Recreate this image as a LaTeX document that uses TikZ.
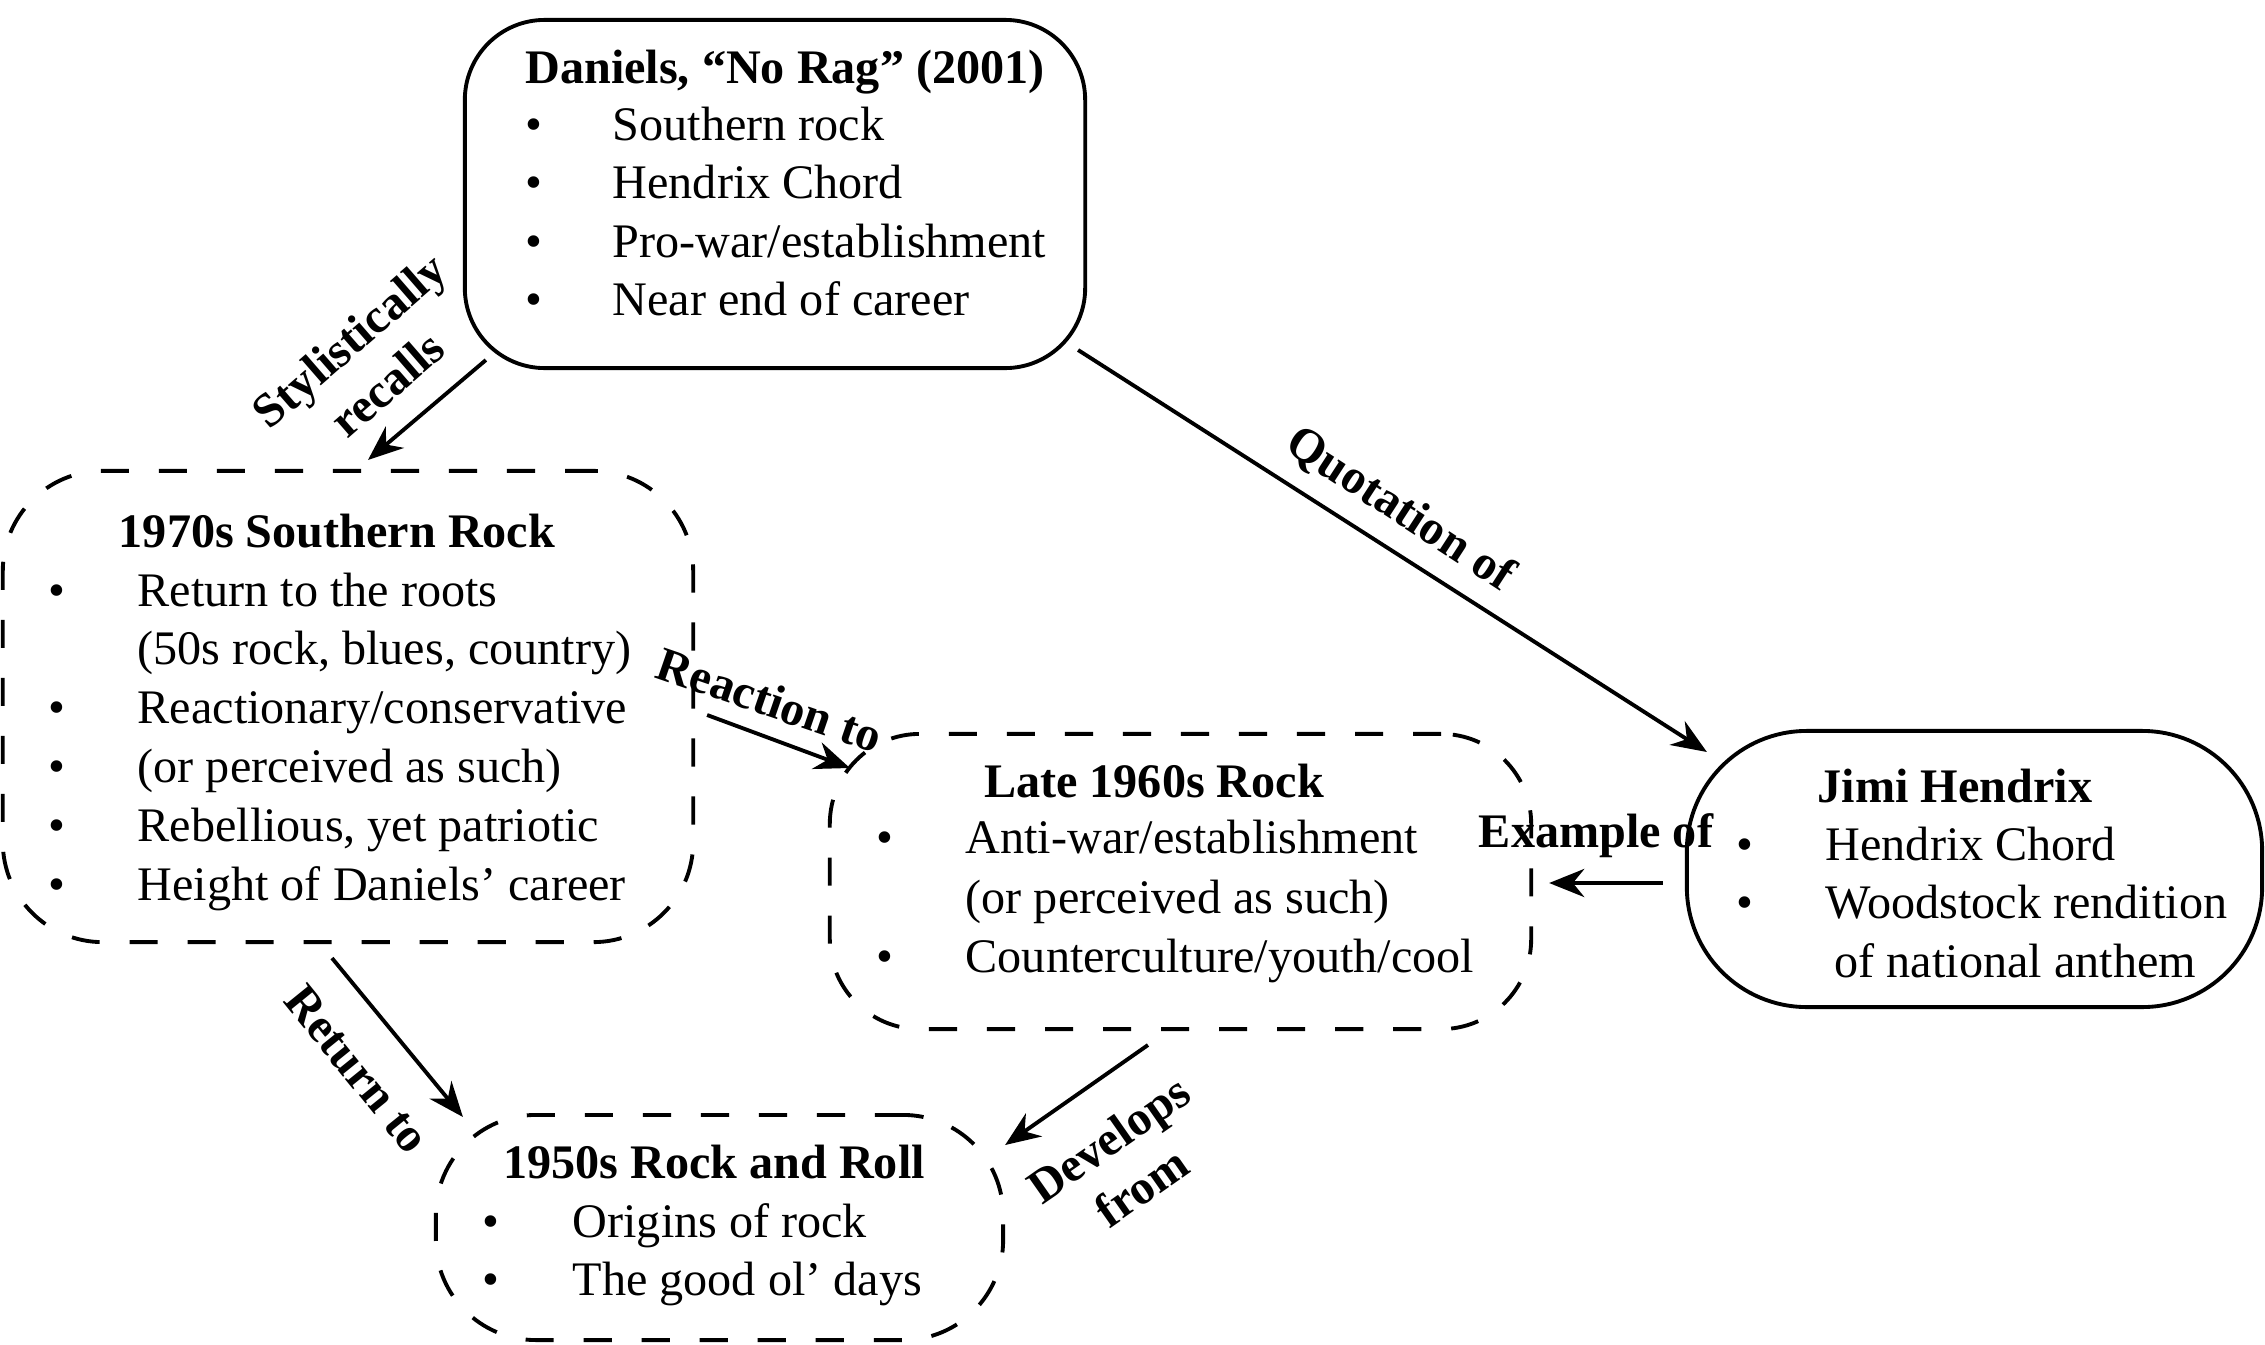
\documentclass[tikz,border=0pt]{standalone}
\usepackage{fontspec}
\setmainfont{Liberation Serif}
\usetikzlibrary{arrows.meta}
\tikzset{plain box/.style={
    draw, line width=1.1pt, rounded corners=#1, inner sep=0pt
  },
  dash box/.style={
    draw, line width=1.1pt, dash pattern=on 8pt off 8.5pt,
    rounded corners=#1, inner sep=0pt
  },
  boxtitle/.style={font=\bfseries, anchor=base, inner sep=0pt},
  bulletdot/.style={anchor=base, inner sep=0pt},
  itemtext/.style={anchor=base west, inner sep=0pt},
  linklabel/.style={font=\bfseries, align=center, inner sep=0pt},
  link/.style={-{Stealth[length=10pt,width=8pt]}, line width=1.1pt}
}

\begin{document}
\fontsize{13.7}{16.5}\selectfont
\begin{tikzpicture}[x=0.01cm,y=-0.01cm]
  \useasboundingbox (0,0) rectangle (2265,1345);

  % -- The five boxes.
  \node[plain box=0.8cm, minimum width=6.2cm, minimum height=3.48cm] (daniels) at (775,194) {};
  \node[dash box=1cm, minimum width=6.9cm, minimum height=4.71cm] (southern) at (348,706.5) {};
  \node[dash box=0.9cm, minimum width=7.01cm, minimum height=2.95cm] (late) at (1180.5,881.5) {};
  \node[plain box=1.2cm, minimum width=5.75cm, minimum height=2.76cm] (hendrix) at (1974.5,869) {};
  \node[dash box=1cm, minimum width=5.67cm, minimum height=2.25cm] (fifties) at (719.5,1227.5) {};

  % -- Daniels, the song.
  \node[boxtitle] (danielsT) at (785,83) {Daniels, “No Rag” (2001)};
  \node[bulletdot] (danielsB1) at (534,140) {\textbullet};
  \node[bulletdot] (danielsB2) at (534,198) {\textbullet};
  \node[bulletdot] (danielsB3) at (534,257) {\textbullet};
  \node[bulletdot] (danielsB4) at (534,315) {\textbullet};
  \node[itemtext] (daniels1) at (612,140) {Southern rock};
  \node[itemtext] (daniels2) at (612,198) {Hendrix Chord};
  \node[itemtext] (daniels3) at (612,257) {Pro-war/establishment};
  \node[itemtext] (daniels4) at (612,315) {Near end of career};

  % -- Southern rock of the seventies.
  \node[boxtitle] (southernT) at (337,547.5) {1970s Southern Rock};
  \node[bulletdot] (southernB1) at (57,606) {\textbullet};
  \node[bulletdot] (southernB3) at (57,723.6) {\textbullet};
  \node[bulletdot] (southernB4) at (57,782.4) {\textbullet};
  \node[bulletdot] (southernB5) at (57,841.2) {\textbullet};
  \node[bulletdot] (southernB6) at (57,900) {\textbullet};
  \node[itemtext] (southern1) at (137,606) {Return to the roots};
  \node[itemtext] (southern2) at (137,664.8) {(50s rock, blues, country)};
  \node[itemtext] (southern3) at (137,723.6) {Reactionary/conservative};
  \node[itemtext] (southern4) at (137,782.4) {(or perceived as such)};
  \node[itemtext] (southern5) at (137,841.2) {Rebellious, yet patriotic};
  \node[itemtext] (southern6) at (137,900) {Height of Daniels’ career};

  % -- Late sixties rock.
  \node[boxtitle] (lateT) at (1154,797) {Late 1960s Rock};
  \node[bulletdot] (lateB1) at (885,853) {\textbullet};
  \node[bulletdot] (lateB3) at (885,972) {\textbullet};
  \node[itemtext] (late1) at (965,853) {Anti-war/establishment};
  \node[itemtext] (late2) at (965,913) {(or perceived as such)};
  \node[itemtext] (late3) at (965,972) {Counterculture/youth/cool};

  % -- Hendrix.
  \node[boxtitle] (hendrixT) at (1955,802) {Jimi Hendrix};
  \node[bulletdot] (hendrixB1) at (1745,860) {\textbullet};
  \node[bulletdot] (hendrixB2) at (1745,918) {\textbullet};
  \node[itemtext] (hendrix1) at (1825,860) {Hendrix Chord};
  \node[itemtext] (hendrix2) at (1825,918) {Woodstock rendition};
  \node[itemtext] (hendrix3) at (1834,977) {of national anthem};

  % -- Fifties rock and roll.
  \node[boxtitle] (fiftiesT) at (714,1178) {1950s Rock and Roll};
  \node[bulletdot] (fiftiesB1) at (491,1237) {\textbullet};
  \node[bulletdot] (fiftiesB2) at (491,1295) {\textbullet};
  \node[itemtext] (fifties1) at (572,1237) {Origins of rock};
  \node[itemtext] (fifties2) at (572,1295) {The good ol’ days};

  % -- The arrows and what they say.
  \draw[link] ([xshift=0.23cm,yshift=0.1cm]daniels.south west) -- ([xshift=0.2cm,yshift=0.09cm]southern.north);
  \draw[link] ([xshift=-0.09cm,yshift=0.2cm]daniels.south east) -- ([xshift=0.22cm,yshift=-0.23cm]hendrix.north west);
  \draw[link] ([xshift=0.12cm,yshift=-0.085cm]southern.east) -- ([xshift=0.22cm,yshift=-0.36cm]late.north west);
  \draw[link] ([xshift=-0.22cm,yshift=-0.14cm]hendrix.west) -- ([xshift=0.16cm,yshift=-0.015cm]late.east);
  \draw[link] ([xshift=-0.16cm,yshift=-0.14cm]southern.south) -- ([xshift=0.29cm,yshift=-0.04cm]fifties.north west);
  \draw[link] ([xshift=-0.325cm,yshift=-0.14cm]late.south) -- ([yshift=-0.32cm]fifties.north east);

  \node[linklabel, rotate=41] (recallsL) at (368,362) {Stylistically\\recalls};
  \node[linklabel, rotate=-33] (quoteL) at (1400,510) {Quotation of};
  \node[linklabel, rotate=-19] (reactL) at (770,700) {Reaction to};
  \node[linklabel, anchor=base] (exampleL) at (1596,847) {Example of};
  \node[linklabel, rotate=-51] (returnL) at (357,1069) {Return to};
  \node[linklabel, rotate=35] (developsL) at (1125,1163) {Develops\\from};
\end{tikzpicture}
\end{document}
